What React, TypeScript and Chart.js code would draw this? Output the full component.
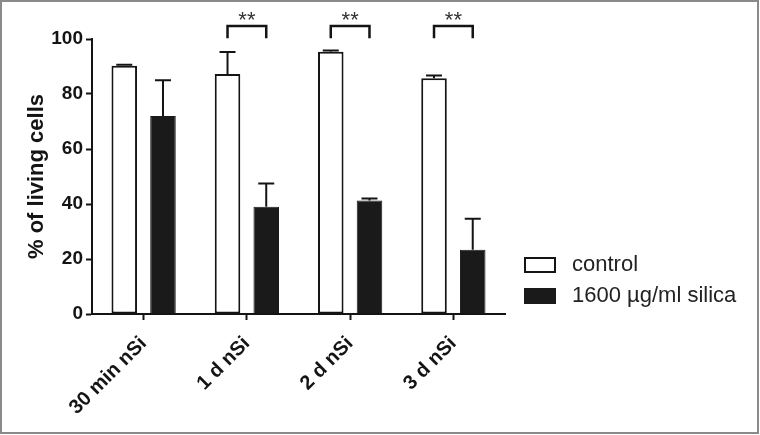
import React, { useEffect, useRef } from "react";
import { Chart, registerables } from "chart.js";

Chart.register(...registerables);

const categories = ["30 min nSi", "1 d nSi", "2 d nSi", "3 d nSi"];
const seriesNames = ["control", "1600 µg/ml silica"];
const controlValues = [90.3, 87.3, 95.4, 85.7];
const controlErrors = [0.3, 8.0, 0.4, 1.0];
const silicaValues = [72.0, 39.0, 41.3, 23.4];
const silicaErrors = [13.0, 8.5, 0.7, 11.2];
const significance = ["", "**", "**", "**"];
const yTicks = [0, 20, 40, 60, 80, 100];
const yTitle = "% of living cells";

const FONT = "'Liberation Sans', Arial, Helvetica, sans-serif";
const INK = "#141414";

const errorPlugin = {
  id: "errorBars",
  afterDatasetsDraw(chart: any) {
    const ctx = chart.ctx;
    const yScale = chart.scales.y;
    const errs = [controlErrors, silicaErrors];
    const vals = [controlValues, silicaValues];
    ctx.save();
    ctx.strokeStyle = INK;
    ctx.lineWidth = 2;
    chart.data.datasets.forEach((_: any, di: number) => {
      const meta = chart.getDatasetMeta(di);
      meta.data.forEach((el: any, i: number) => {
        const v = vals[di][i];
        const e = errs[di][i];
        const yTop = yScale.getPixelForValue(v + e);
        const yBar = yScale.getPixelForValue(v);
        const cap = 8;
        ctx.beginPath();
        ctx.moveTo(el.x, yBar);
        ctx.lineTo(el.x, yTop);
        ctx.moveTo(el.x - cap, yTop);
        ctx.lineTo(el.x + cap, yTop);
        ctx.stroke();
      });
    });
    ctx.restore();
  },
};

const annotPlugin = {
  id: "annot",
  afterDraw(chart: any) {
    const ctx = chart.ctx;
    const yScale = chart.scales.y;
    const m0 = chart.getDatasetMeta(0);
    const m1 = chart.getDatasetMeta(1);
    ctx.save();
    // significance brackets
    significance.forEach((s, i) => {
      if (!s) return;
      const x1 = m0.data[i].x;
      const x2 = m1.data[i].x;
      const yT = yScale.getPixelForValue(104.7);
      const yB = yScale.getPixelForValue(100.3);
      ctx.strokeStyle = INK;
      ctx.lineWidth = 2.5;
      ctx.beginPath();
      ctx.moveTo(x1, yB);
      ctx.lineTo(x1, yT);
      ctx.lineTo(x2, yT);
      ctx.lineTo(x2, yB);
      ctx.stroke();
      ctx.fillStyle = "#333";
      ctx.font = `22px ${FONT}`;
      ctx.textAlign = "center";
      ctx.textBaseline = "middle";
      ctx.fillText(s, (x1 + x2) / 2, yScale.getPixelForValue(106.6));
    });
    // legend
    const lx = 525;
    const ly = [258, 289];
    ctx.lineWidth = 2;
    ctx.strokeStyle = INK;
    ctx.fillStyle = "#fff";
    ctx.fillRect(lx, ly[0], 30, 14);
    ctx.strokeRect(lx, ly[0], 30, 14);
    ctx.fillStyle = "#1a1a1a";
    ctx.fillRect(lx - 1, ly[1] - 1, 32, 16);
    ctx.font = `22px ${FONT}`;
    ctx.fillStyle = "#222";
    ctx.textAlign = "left";
    ctx.textBaseline = "middle";
    ctx.fillText(seriesNames[0], 572, ly[0] + 7);
    ctx.fillText(seriesNames[1], 572, ly[1] + 7);
    // frame
    ctx.strokeStyle = "#8a8a8a";
    ctx.lineWidth = 2;
    ctx.strokeRect(1, 1, 757, 432);
    ctx.restore();
  },
};

export default function App() {
  const ref = useRef<HTMLCanvasElement | null>(null);
  useEffect(() => {
    if (!ref.current) return;
    const chart = new Chart(ref.current, {
      type: "bar",
      data: {
        labels: categories,
        datasets: [
          {
            label: seriesNames[0],
            data: controlValues,
            backgroundColor: "#ffffff",
            borderColor: INK,
            borderWidth: 2,
            borderSkipped: false,
          },
          {
            label: seriesNames[1],
            data: silicaValues,
            backgroundColor: "#1a1a1a",
            borderColor: "#1a1a1a",
            borderWidth: 1,
          },
        ],
      },
      options: {
        responsive: false,
        animation: false,
        events: [],
        categoryPercentage: 0.75,
        barPercentage: 0.66,
        layout: { padding: { top: 39, right: 255, left: 0, bottom: 0 } },
        plugins: {
          legend: { display: false },
          tooltip: { enabled: false },
        },
        scales: {
          x: {
            afterFit: (s: any) => {
              s.height = 121;
            },
            grid: {
              offset: false,
              drawOnChartArea: false,
              drawTicks: true,
              tickLength: 6,
              tickWidth: 2,
              tickColor: INK,
            },
            border: { display: true, color: INK, width: 2 },
            ticks: {
              minRotation: 45,
              maxRotation: 45,
              padding: 12,
              color: INK,
              font: { family: FONT, size: 20, weight: "bold" },
            },
          },
          y: {
            min: 0,
            max: 100,
            afterFit: (s: any) => {
              s.width = 92;
            },
            afterBuildTicks: (s: any) => {
              s.ticks = yTicks.map((v) => ({ value: v }));
            },
            grid: {
              drawOnChartArea: false,
              drawTicks: true,
              tickLength: 6,
              tickWidth: 2,
              tickColor: INK,
            },
            border: { display: true, color: INK, width: 2 },
            ticks: {
              padding: 3,
              color: INK,
              font: { family: FONT, size: 19, weight: "bold" },
            },
            title: {
              display: true,
              text: yTitle,
              color: INK,
              padding: { top: 24, bottom: 0 },
              font: { family: FONT, size: 22, weight: "bold" },
            },
          },
        },
      },
      plugins: [errorPlugin, annotPlugin],
    });
    return () => chart.destroy();
  }, []);
  return (
    <div style={{ position: "absolute", left: 0, top: 0, width: 760, height: 435, background: "#fff" }}>
      <canvas ref={ref} width={760} height={435} style={{ display: "block" }} />
    </div>
  );
}
